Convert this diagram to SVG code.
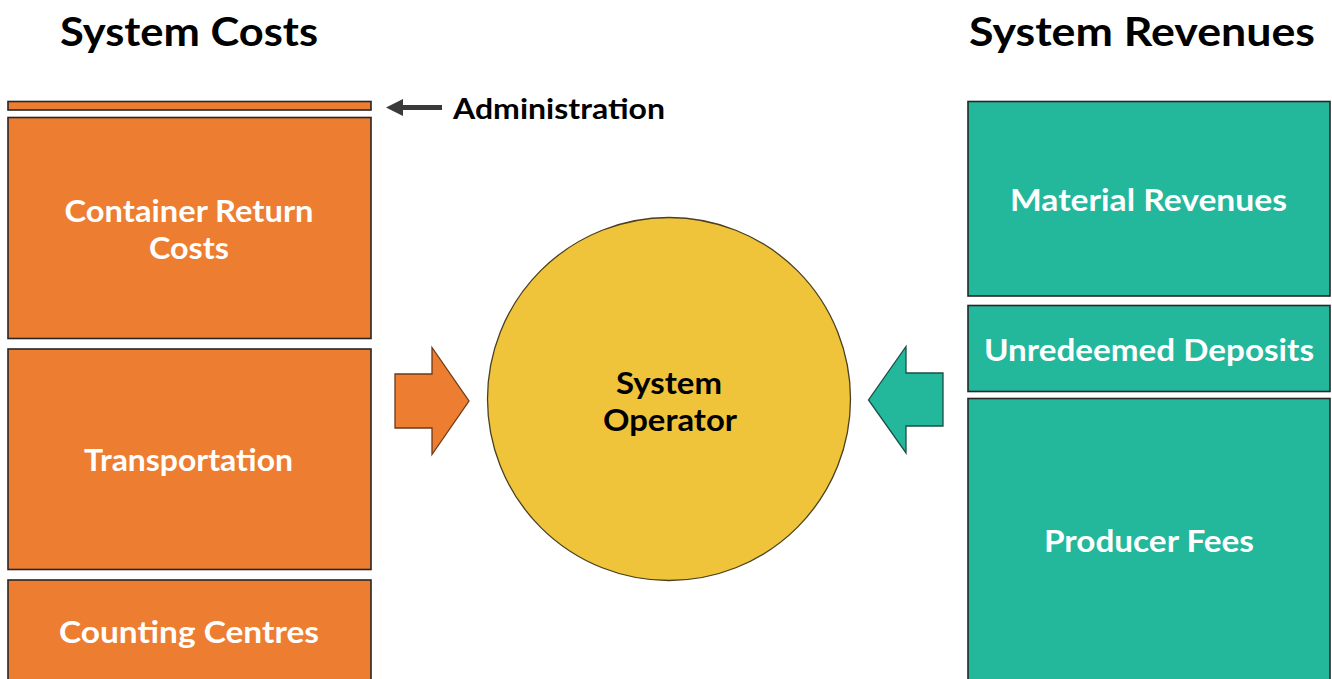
<svg xmlns="http://www.w3.org/2000/svg" width="1332" height="679" viewBox="0 0 1332 679">
<style>
text{font-family:"Lato","Open Sans","DejaVu Sans",sans-serif;font-weight:700;text-anchor:middle}
.title{font-size:40px;fill:#000}
.lbl{font-size:30px;fill:#fff}
.blk{font-size:30px;fill:#000}
.cost{fill:#ED7D31;stroke:#262626;stroke-width:1.6}
.rev{fill:#23B79B;stroke:#262626;stroke-width:1.6}
</style>
<rect width="1332" height="679" fill="#fff"/>
<g id="titles">
<text class="title" x="189" y="46" textLength="258" lengthAdjust="spacingAndGlyphs">System Costs</text>
<text class="title" x="1142" y="46" textLength="346" lengthAdjust="spacingAndGlyphs">System Revenues</text>
</g>
<g id="administration">
<rect class="cost" x="8" y="101.5" width="363" height="8.5"/>
<text class="blk" x="559" y="119" textLength="212" lengthAdjust="spacingAndGlyphs" style="font-size:29px">Administration</text>
</g>
<g id="container-return">
<rect class="cost" x="8" y="117.5" width="363" height="221"/>
<text class="lbl" x="189" y="222" textLength="249" lengthAdjust="spacingAndGlyphs">Container Return</text>
<text class="lbl" x="189" y="259" textLength="80" lengthAdjust="spacingAndGlyphs">Costs</text>
</g>
<g id="transportation">
<rect class="cost" x="8" y="349" width="363" height="220.5"/>
<text class="lbl" x="188.5" y="471" textLength="209" lengthAdjust="spacingAndGlyphs">Transportation</text>
</g>
<g id="counting-centres">
<rect class="cost" x="8" y="580" width="363" height="110"/>
<text class="lbl" x="189" y="643" textLength="260" lengthAdjust="spacingAndGlyphs">Counting Centres</text>
</g>
<g id="material-revenues">
<rect class="rev" x="968" y="101.5" width="362" height="194.5"/>
<text class="lbl" x="1148.5" y="211" textLength="277" lengthAdjust="spacingAndGlyphs">Material Revenues</text>
</g>
<g id="unredeemed-deposits">
<rect class="rev" x="968" y="305.5" width="362" height="86"/>
<text class="lbl" x="1149" y="361" textLength="330" lengthAdjust="spacingAndGlyphs">Unredeemed Deposits</text>
</g>
<g id="producer-fees">
<rect class="rev" x="968" y="398.5" width="362" height="290"/>
<text class="lbl" x="1149" y="552" textLength="210" lengthAdjust="spacingAndGlyphs">Producer Fees</text>
</g>
<g id="system-operator">
<circle cx="669" cy="399" r="181.5" fill="#F0C43A" stroke="#4a4020" stroke-width="1.3"/>
<text class="blk" x="669" y="394" textLength="106" lengthAdjust="spacingAndGlyphs">System</text>
<text class="blk" x="670" y="431" textLength="134" lengthAdjust="spacingAndGlyphs">Operator</text>
</g>
<g id="connectors">
<path d="M395,374 L432,374 L432,347.5 L469,401 L432,454.5 L432,428 L395,428 Z" fill="#ED7D31" stroke="#6b3a1a" stroke-width="1.3" stroke-linejoin="miter"/>
<path d="M943,373 L906,373 L906,346.5 L868.5,400 L906,453 L906,426 L943,426 Z" fill="#23B79B" stroke="#1d4f45" stroke-width="1.3" stroke-linejoin="miter"/>
<path d="M442,105 L403,105 L403,99 L386,107.5 L403,116 L403,110 L442,110 Z" fill="#3a3a3a"/>
</g>
</svg>
